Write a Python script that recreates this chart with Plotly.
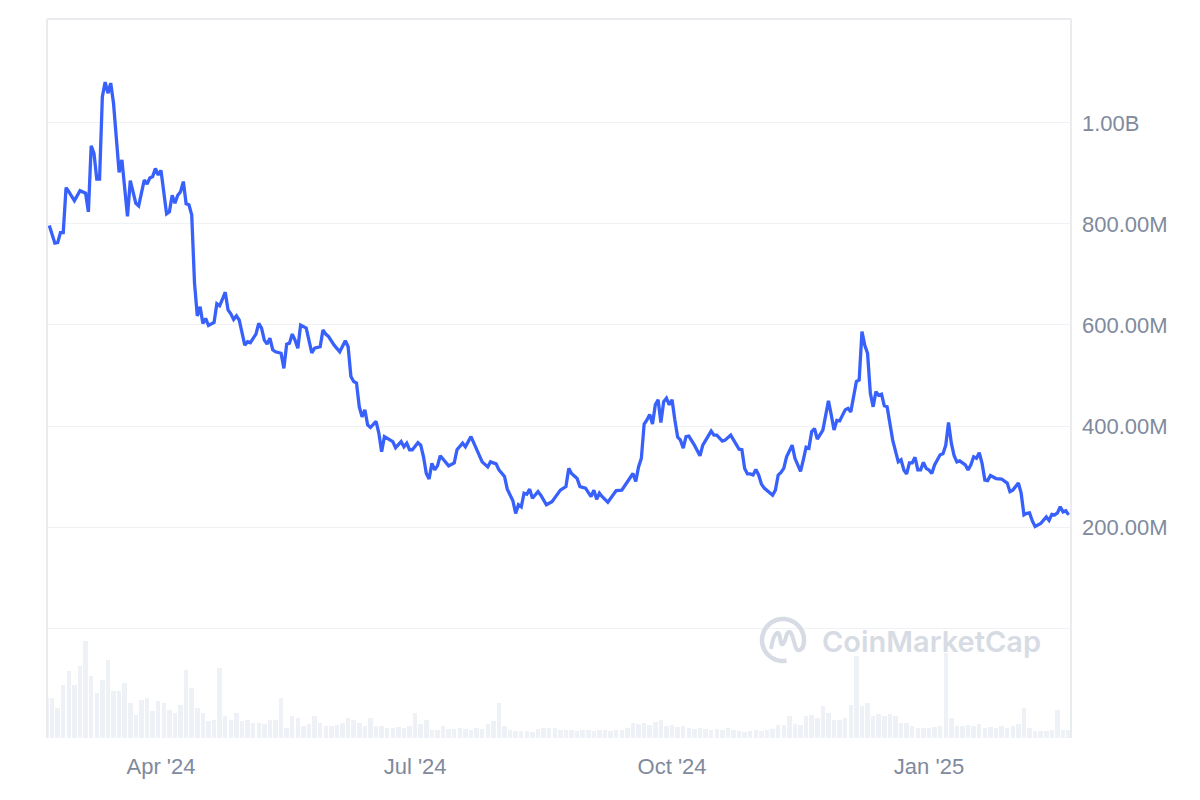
import pandas as pd
import numpy as np
import plotly.graph_objects as go

BASE = pd.Timestamp("2024-02-20")

# Price series: day offset from 2024-02-20, value in millions USD
price_days = [1,3,4,5,6,7,8,10,12,14,15,16,17,18,19,20,21,22,23,24,26,27,29,30,32,33,35,36,37,38,39,40,41,43,44,45,46,47,48,49,50,51,52,53,54,55,56,57,58,60,61,62,63,64,65,66,67,68,69,70,71,72,73,75,76,77,78,79,80,81,82,84,85,86,87,88,89,90,91,93,94,95,96,98,99,100,101,103,105,107,108,109,110,111,112,113,114,115,116,118,119,120,121,123,124,125,127,128,129,130,131,133,134,135,136,137,138,139,140,141,143,144,146,147,149,150,152,153,155,156,158,159,161,162,164,165,167,168,169,170,171,172,173,174,176,177,179,181,184,186,187,188,190,191,193,195,196,197,198,199,201,202,204,206,208,209,210,211,212,213,214,215,216,217,218,219,220,221,222,223,224,225,226,227,228,229,230,232,234,235,237,238,239,240,242,243,245,246,248,249,250,251,252,253,254,255,256,257,258,260,261,262,263,264,265,267,268,270,271,272,273,274,275,276,278,279,280,281,282,283,284,286,287,288,289,290,291,292,293,294,295,296,297,298,299,300,301,302,303,305,306,307,308,309,310,311,312,313,314,315,316,317,318,320,321,322,323,324,325,326,327,329,330,331,332,333,334,335,336,337,338,340,342,344,345,346,348,349,350,351,352,353,354,356,357,358,359,360,361,362,363,364,365,366]
price_m = [797,762,763,783,783,872,864,846,866,861,824,955,940,889,889,1052,1081,1059,1079,1039,902,927,815,886,841,836,887,879,891,894,910,897,906,820,824,857,841,857,864,884,840,838,818,683,618,636,603,613,599,605,642,638,651,665,630,622,611,618,610,584,560,567,565,582,603,594,570,562,574,551,547,544,514,562,564,582,570,554,600,594,570,545,554,557,590,582,577,560,547,569,557,498,488,485,438,418,432,402,397,409,386,349,379,372,369,357,369,359,366,353,353,367,362,339,306,295,326,313,321,341,329,321,327,353,366,359,379,366,343,329,319,329,325,313,300,275,252,227,244,240,267,265,275,257,270,263,244,250,273,280,316,306,296,280,277,260,273,255,267,260,249,257,272,273,290,296,306,290,319,336,404,412,423,404,442,452,407,448,455,442,452,412,378,372,356,379,380,362,341,362,379,390,382,382,370,372,382,372,354,353,316,305,305,303,314,303,285,277,272,263,273,303,308,316,339,362,336,310,333,358,356,389,395,374,392,425,450,422,392,411,410,432,435,428,461,488,491,587,560,544,465,438,468,461,463,440,438,405,372,329,333,313,305,327,327,338,313,313,328,316,313,306,323,343,345,362,407,366,341,329,331,323,313,323,339,336,347,326,293,292,302,296,295,287,270,273,287,267,224,227,228,212,201,207,213,220,213,225,224,228,240,230,232,224]

# Volume (millions USD, estimated), one bar every 2 days starting at day 0
vol_m = [40,40,30,53,67,53,72,97,62,45,58,78,47,47,55,35,23,38,40,27,37,35,28,25,33,68,50,30,25,17,18,70,22,18,25,17,18,15,15,14,18,18,40,10,22,20,12,14,22,15,12,12,13,15,20,18,15,12,20,12,12,10,10,11,10,12,25,14,18,8,8,12,9,9,10,9,8,10,9,14,17,35,12,8,7,7,7,6,9,10,10,10,
         8,8,8,7,8,8,7,8,8,7,8,8,10,15,14,15,13,16,18,12,13,11,12,10,9,10,9,8,9,8,10,8,7,6,7,8,7,8,9,13,13,22,14,13,22,23,20,32,25,18,18,20,33,82,32,35,22,24,22,24,22,15,15,12,10,10,10,11,12,85,20,12,12,13,12,14,10,11,10,12,10,12,14,30,10,7,7,7,8,28,8,8]
vol_days = list(range(0, 2 * len(vol_m), 2))

tick_dates = ["2024-04-01", "2024-07-01", "2024-10-01", "2025-01-01"]
tick_labels = ["Apr '24", "Jul '24", "Oct '24", "Jan '25"]
y_ticks_m = [0, 200, 400, 600, 800, 1000]
y_tick_labels = ["", "200.00M", "400.00M", "600.00M", "800.00M", "1.00B"]

price_x = [BASE + pd.Timedelta(days=d) for d in price_days]
vol_x = [BASE + pd.Timedelta(days=d) for d in vol_days]

LABEL = "#808a9d"
GRID = "#eff2f5"
BORDER = "#e9ebee"
WM = "#d7dbe4"

fig = go.Figure()
fig.add_trace(go.Bar(x=vol_x, y=vol_m, yaxis="y2",
                     marker=dict(color="#eef1f5", line=dict(width=0)),
                     width=1.6 * 86400000, hoverinfo="skip"))
fig.add_trace(go.Scatter(x=price_x, y=[v * 1e6 for v in price_m], mode="lines",
                         line=dict(color="#3861fb", width=3.3), hoverinfo="x+y"))

x0 = BASE + pd.Timedelta(days=0.18)
x1 = BASE + pd.Timedelta(days=366.85)

fig.update_layout(
    width=1200, height=800,
    margin=dict(l=39, r=137, t=11, b=70),
    paper_bgcolor="white", plot_bgcolor="white",
    showlegend=False,
    bargap=0,
    font=dict(family="Liberation Sans, Arial, sans-serif", color=LABEL, size=22),
    xaxis=dict(type="date", range=[x0, x1], tickvals=tick_dates, ticktext=tick_labels,
               showgrid=False, zeroline=False, showline=False, ticks="",
               ticklabelstandoff=13, tickfont=dict(size=22, color=LABEL)),
    yaxis=dict(side="right", range=[-217.8e6, 1205.9e6],
               tickvals=[v * 1e6 for v in y_ticks_m], ticktext=y_tick_labels,
               showgrid=True, gridcolor=GRID, gridwidth=1, zeroline=False,
               showline=False, ticks="", ticklabelstandoff=10,
               tickfont=dict(size=22, color=LABEL)),
    yaxis2=dict(overlaying="y", range=[0, 719], visible=False, showgrid=False),
)

# chart frame: top, left, right
fig.add_shape(type="line", xref="paper", yref="paper", x0=0, x1=1, y0=1, y1=1,
              line=dict(color=BORDER, width=2))
fig.add_shape(type="line", xref="paper", yref="paper", x0=0, x1=0, y0=0, y1=1,
              line=dict(color=BORDER, width=2))
fig.add_shape(type="line", xref="paper", yref="paper", x0=1, x1=1, y0=0, y1=1,
              line=dict(color=BORDER, width=2))

# watermark logo (decorative)
ax_, ay_ = (783 - 47) / 1024, (738 - 640) / 719
ang = np.linspace(np.radians(-25), np.radians(280), 40)
r = 21
pts = [(r * np.cos(a), r * np.sin(a)) for a in ang]
arc = "M " + " L ".join(f"{px:.1f},{py:.1f}" for px, py in pts)
fig.add_shape(type="path", xref="paper", yref="paper", xsizemode="pixel", ysizemode="pixel",
              xanchor=ax_, yanchor=ay_, path=arc, line=dict(color=WM, width=4.5))
wave = "M -12,-9 C -10,4 -6,10 -4,6 C -2,2 -3,-6 0,-4 C 3,-2 3,10 7,8 C 10,6 11,-4 13,-8 C 15,-12 19,-10 20,-6"
fig.add_shape(type="path", xref="paper", yref="paper", xsizemode="pixel", ysizemode="pixel",
              xanchor=ax_, yanchor=ay_, path=wave, line=dict(color=WM, width=4))
fig.add_annotation(text="CoinMarketCap", xref="paper", yref="paper",
                   x=(820 - 47) / 1024, y=(738 - 641) / 719, xanchor="left", yanchor="middle",
                   showarrow=False, font=dict(family="Inter, Lato, sans-serif", size=29, color=WM, weight=600))

fig.write_html("out.html")
